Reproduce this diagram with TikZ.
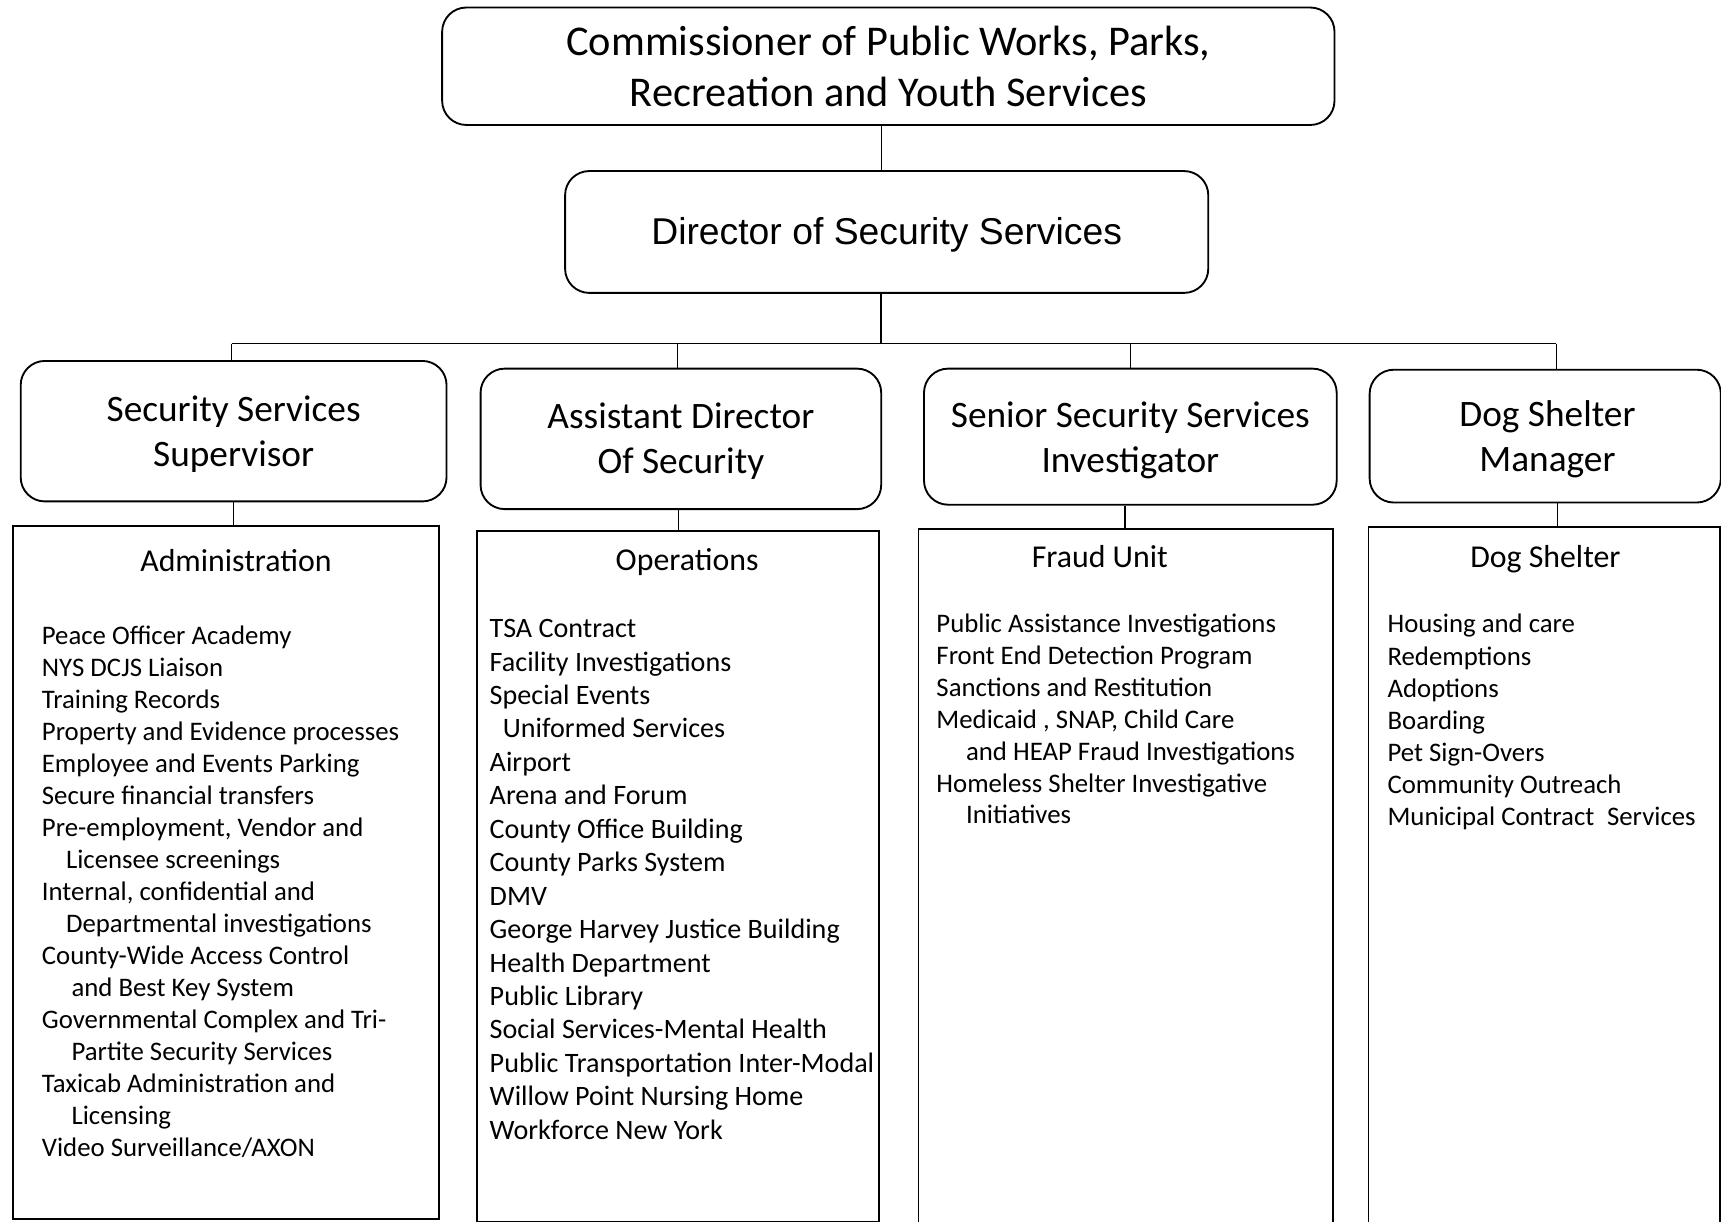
\documentclass[tikz,border=0pt]{standalone}
\usepackage{fontspec}
\setmainfont{Carlito}
\newfontfamily\arialf{Liberation Sans}
\begin{document}
\begin{tikzpicture}[x=1pt,y=-1pt,
  rbox/.style={draw, line width=1.7pt, rounded corners=22pt, anchor=north west, inner sep=0pt, align=center},
  sbox/.style={draw, line width=1.7pt, anchor=north west, inner sep=0pt},
  conn/.style={line width=1.3pt},
  lvltwo/.style={font=\fontsize{34}{41}\selectfont, align=center, inner sep=0pt},
  ttl/.style={font=\fontsize{29}{34}\selectfont, anchor=base, inner sep=0pt},
  item/.style={font=\fontsize{24.4}{29}\selectfont, anchor=base west, inner sep=0pt},
  itemb/.style={font=\fontsize{25.6}{30}\selectfont, anchor=base west, inner sep=0pt}
]
\useasboundingbox (0,0) rectangle (1568,1113);

% top levels
\node[rbox, minimum width=813pt, minimum height=107pt, font=\fontsize{38.6}{46}\selectfont] (comm) at (402,6)
  {Commissioner of Public Works, Parks,\\Recreation and Youth Services};
\node[rbox, minimum width=586pt, minimum height=111pt] (dir) at (514,155) {};
\node[font=\arialf\fontsize{34}{40}\selectfont, inner sep=0pt] (dirt) at ([yshift=-3]dir.center)
  {Director of Security Services};

% level 2 boxes
\node[rbox, minimum width=388pt, minimum height=128pt] (sup) at (18,328) {};
\node[rbox, minimum width=365pt, minimum height=128pt] (asst) at (437,335) {};
\node[rbox, minimum width=376pt, minimum height=124pt] (sen) at (841,335) {};
\node[rbox, minimum width=320pt, minimum height=121pt] (dogm) at (1247,336) {};
\node[lvltwo] (supt) at ([yshift=-3]sup.center) {Security Services\\Supervisor};
\node[lvltwo] (asstt) at ([yshift=-2]asst.center) {Assistant Director\\Of Security};
\node[lvltwo] (sent) at ([yshift=-3]sen.center) {Senior Security Services\\Investigator};
\node[lvltwo] (dogmt) at ([yshift=-3, xshift=2]dogm.center) {Dog Shelter\\Manager};

% level 3 boxes
\node[sbox, minimum width=388pt, minimum height=632pt] (adm) at (11,478) {};
\node[sbox, minimum width=366pt, minimum height=629pt] (ops) at (434,483) {};
\node[sbox, minimum width=378pt, minimum height=645pt] (frd) at (836,481) {};
\node[sbox, minimum width=320pt, minimum height=645pt] (dogs) at (1246,479) {};

% titles
\node[ttl] (tadm) at (215,520.8) {Administration};
\node[ttl] (tops) at (626,520) {Operations};
\node[ttl] (tfrd) at (1002,517) {Fraud Unit};
\node[ttl] (tdogs) at (1408,517) {Dog Shelter};

% connectors
\coordinate (busL) at (211,313);
\coordinate (busA) at (617,313);
\coordinate (busS) at (1030,313);
\coordinate (busR) at (1418,313);
\draw[conn] ([xshift=-6]comm.south) -- ([xshift=-6]comm.south |- dir.north);
\draw[conn] ([xshift=-5]dir.south) -- ([xshift=-5]dir.south |- busL);
\draw[conn] (busL) -- (busR);
\draw[conn] (busL) -- (busL |- sup.north);
\draw[conn] (busA) -- (busA |- asst.north);
\draw[conn] (busS) -- (busS |- sen.north);
\draw[conn] (busR) -- (busR |- dogm.north);
\draw[conn] (sup.south) -- (sup.south |- adm.north);
\draw[conn] ([xshift=-2]asst.south) -- ([xshift=-2]asst.south |- ops.north);
\draw[conn] ([xshift=-5]sen.south) -- ([xshift=-5]sen.south |- frd.north);
\draw[conn] ([xshift=11]dogm.south) -- ([xshift=11]dogm.south |- dogs.north);

% Administration list
\foreach \dx/\txt [count=\i from 0] in {
  0/Peace Officer Academy,
  0/NYS DCJS Liaison,
  0/Training Records,
  0/Property and Evidence processes,
  0/Employee and Events Parking,
  0/Secure financial transfers,
  0/{Pre-employment, Vendor and},
  22/Licensee screenings,
  0/{Internal, confidential and},
  22/Departmental investigations,
  0/County-Wide Access Control,
  27/and Best Key System,
  0/Governmental Complex and Tri-,
  27/Partite Security Services,
  0/Taxicab Administration and,
  27/Licensing,
  0/{Video Surveillance/AXON}}
  \node[item] (a\i) at (38+\dx, 587.3+\i*29.15) {\txt};

% Operations list
\foreach \dx/\txt [count=\i from 0] in {
  0/TSA Contract,
  0/Facility Investigations,
  0/Special Events,
  12/Uniformed Services,
  0/Airport,
  0/Arena and Forum,
  0/County Office Building,
  0/County Parks System,
  0/DMV,
  0/George Harvey Justice Building,
  0/Health Department,
  0/Public Library,
  0/Social Services-Mental Health,
  0/Public Transportation Inter-Modal,
  0/Willow Point Nursing Home,
  0/Workforce New York}
  \node[itemb] (o\i) at (446+\dx, 581+\i*30.46) {\txt};

% Fraud list
\foreach \dx/\txt [count=\i from 0] in {
  0/Public Assistance Investigations,
  0/Front End Detection Program,
  0/Sanctions and Restitution,
  0/{Medicaid , SNAP, Child Care},
  27/and HEAP Fraud Investigations,
  0/Homeless Shelter Investigative,
  27/Initiatives}
  \node[item] (f\i) at (853+\dx, 576.6+\i*29.0) {\txt};

% Dog shelter list
\foreach \txt [count=\i from 0] in {
  Housing and care,
  Redemptions,
  Adoptions,
  Boarding,
  Pet Sign-Overs,
  Community Outreach,
  Municipal Contract\hspace{0.25em} Services}
  \node[item] (d\i) at (1264, 576.7+\i*29.2) {\txt};
\end{tikzpicture}
\end{document}
